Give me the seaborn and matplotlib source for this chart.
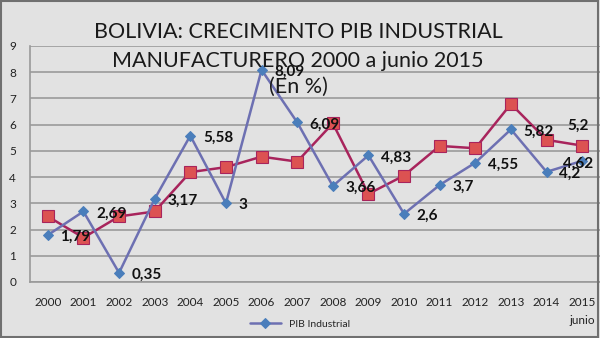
import matplotlib
matplotlib.use("Agg")
import matplotlib.pyplot as plt
import seaborn as sns
import pandas as pd
from matplotlib.patches import Rectangle

years = ["2000", "2001", "2002", "2003", "2004", "2005", "2006", "2007",
         "2008", "2009", "2010", "2011", "2012", "2013", "2014", "2015\njunio"]
pib_industrial = [1.79, 2.69, 0.35, 3.17, 5.58, 3.0, 8.09, 6.09,
                  3.66, 4.83, 2.6, 3.7, 4.55, 5.82, 4.2, 4.62]
pib_industrial_labels = ["1,79", "2,69", "0,35", "3,17", "5,58", "3", "8,09", "6,09",
                         "3,66", "4,83", "2,6", "3,7", "4,55", "5,82", "4,2", "4,62"]
pib_total = [2.5, 1.69, 2.5, 2.69, 4.19, 4.38, 4.78, 4.59,
             6.05, 3.36, 4.06, 5.19, 5.10, 6.79, 5.42, 5.2]
y_ticks = [0, 1, 2, 3, 4, 5, 6, 7, 8, 9]

BG = "#e2e2e2"
sns.set_theme(style="white")
plt.rcParams["font.family"] = ["Lato", "DejaVu Sans"]

df = pd.DataFrame({"pos": range(len(years)), "ind": pib_industrial, "tot": pib_total})

fig = plt.figure(figsize=(6, 3.38), dpi=100, facecolor=BG)
ax = fig.add_axes([30 / 600, 1 - 282 / 338, 570 / 600, (282 - 46) / 338])
ax.set_facecolor(BG)

sns.lineplot(data=df, x="pos", y="tot", ax=ax, color="#a8245c", linewidth=1.8,
             marker="s", markersize=8, markerfacecolor="#dc5252",
             markeredgecolor="#a8245c", markeredgewidth=0.8, zorder=3)
sns.lineplot(data=df, x="pos", y="ind", ax=ax, color="#6d70b2", linewidth=1.8,
             marker="D", markersize=5.5, markerfacecolor="#4a7ebb",
             markeredgecolor="#4a7ebb", zorder=4, label="PIB Industrial")

# data labels
for i, (v, lab) in enumerate(zip(pib_industrial, pib_industrial_labels)):
    if i == len(years) - 1:
        ax.annotate(lab, (i, v), xytext=(8, -2), textcoords="offset points",
                    ha="right", va="center", fontsize=11, fontweight="bold", color="#111111", zorder=6)
    else:
        ax.annotate(lab, (i, v), xytext=(9, -1.5), textcoords="offset points",
                    ha="left", va="center", fontsize=11, fontweight="bold", color="#111111", zorder=6)
last = len(years) - 1
ax.annotate("5,2", (last, pib_total[last]), xytext=(-3, 14), textcoords="offset points",
            ha="center", va="center", fontsize=11, fontweight="bold", color="#111111", zorder=6)

ax.set_xlim(-0.5, len(years) - 0.5)
ax.set_ylim(0, 9)
ax.set_yticks(y_ticks)
ax.set_yticklabels([str(t) for t in y_ticks], fontsize=8.5, color="#222222")
ax.set_xticks(range(len(years)))
ax.set_xticklabels(years, fontsize=8.5, color="#222222", va="top", linespacing=1.75)
ax.set_xticks([i + 0.5 for i in range(-1, len(years))], minor=True)
ax.tick_params(axis="x", which="major", length=0, pad=11)
ax.tick_params(axis="x", which="minor", length=4, color="#999999", width=1, direction="out")
ax.tick_params(axis="y", which="major", length=0, pad=10)
ax.grid(axis="y", color="#9a9a9a", linewidth=1.2)
ax.set_axisbelow(True)
ax.set_xlabel("")
ax.set_ylabel("")
for s in ["top", "right"]:
    ax.spines[s].set_visible(False)
for s in ["left", "bottom"]:
    ax.spines[s].set_color("#999999")
    ax.spines[s].set_linewidth(1.2)

ax.legend(loc="center", bbox_to_anchor=(0.5, 1 - 324 / 338), bbox_transform=fig.transFigure,
          frameon=False, fontsize=7.5, handlelength=3)

fig.text(0.497, 1 - 32 / 338, "BOLIVIA: CRECIMIENTO PIB INDUSTRIAL", ha="center", va="center",
         fontsize=15.5, color="#1a1a1a")
fig.text(0.497, 1 - 61 / 338, "MANUFACTURERO 2000 a junio 2015", ha="center", va="center",
         fontsize=15.5, color="#1a1a1a")
fig.text(0.497, 1 - 87 / 338, "(En %)", ha="center", va="center",
         fontsize=15.5, color="#1a1a1a")

fig.patches.append(Rectangle((0.002, 0.003), 0.994, 0.994, transform=fig.transFigure,
                             fill=False, edgecolor="#707070", linewidth=1.5))

fig.savefig("out.png", dpi=100, facecolor=BG)
